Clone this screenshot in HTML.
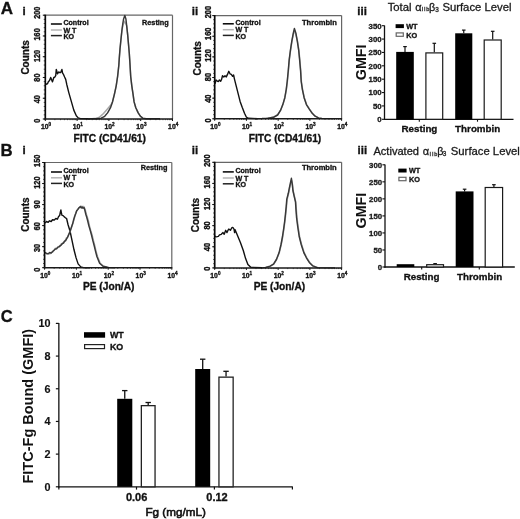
<!DOCTYPE html><html><head><meta charset="utf-8"><style>html,body{margin:0;padding:0;background:#fff;}svg{display:block;filter:blur(0.3px);}</style></head><body>
<svg width="520" height="519" viewBox="0 0 520 519">
<rect x="0" y="0" width="520" height="519" fill="#fff"/>
<text x="0.80" y="13.60" font-size="17.0" font-family="'Liberation Sans', sans-serif" font-weight="bold" text-anchor="start" fill="#111" stroke="#111" stroke-width="0.32" >A</text>
<text x="0.50" y="155.50" font-size="16.8" font-family="'Liberation Sans', sans-serif" font-weight="bold" text-anchor="start" fill="#111" stroke="#111" stroke-width="0.32" >B</text>
<text x="0.80" y="321.60" font-size="16.5" font-family="'Liberation Sans', sans-serif" font-weight="bold" text-anchor="start" fill="#111" stroke="#111" stroke-width="0.32" >C</text>
<text x="22.40" y="15.40" font-size="11.5" font-family="'Liberation Sans', sans-serif" font-weight="bold" text-anchor="start" fill="#111" stroke="#111" stroke-width="0.32" >i</text>
<text x="191.80" y="15.40" font-size="11.5" font-family="'Liberation Sans', sans-serif" font-weight="bold" text-anchor="start" fill="#111" stroke="#111" stroke-width="0.32" >ii</text>
<text x="357.30" y="15.40" font-size="11.5" font-family="'Liberation Sans', sans-serif" font-weight="bold" text-anchor="start" fill="#111" stroke="#111" stroke-width="0.32" >iii</text>
<text x="22.40" y="154.00" font-size="11.5" font-family="'Liberation Sans', sans-serif" font-weight="bold" text-anchor="start" fill="#111" stroke="#111" stroke-width="0.32" >i</text>
<text x="191.80" y="154.40" font-size="11.5" font-family="'Liberation Sans', sans-serif" font-weight="bold" text-anchor="start" fill="#111" stroke="#111" stroke-width="0.32" >ii</text>
<text x="357.60" y="154.20" font-size="11.5" font-family="'Liberation Sans', sans-serif" font-weight="bold" text-anchor="start" fill="#111" stroke="#111" stroke-width="0.32" >iii</text>
<line x1="45.30" y1="15.20" x2="172.50" y2="15.20" stroke="#666" stroke-width="1.2" />
<line x1="172.50" y1="15.20" x2="172.50" y2="119.00" stroke="#666" stroke-width="1.2" />
<line x1="43.70" y1="119.00" x2="45.30" y2="119.00" stroke="#333" stroke-width="0.8" />
<line x1="43.70" y1="114.85" x2="45.30" y2="114.85" stroke="#333" stroke-width="0.8" />
<line x1="43.70" y1="110.70" x2="45.30" y2="110.70" stroke="#333" stroke-width="0.8" />
<line x1="43.70" y1="106.54" x2="45.30" y2="106.54" stroke="#333" stroke-width="0.8" />
<line x1="43.70" y1="102.39" x2="45.30" y2="102.39" stroke="#333" stroke-width="0.8" />
<line x1="43.70" y1="98.24" x2="45.30" y2="98.24" stroke="#333" stroke-width="0.8" />
<line x1="43.70" y1="94.09" x2="45.30" y2="94.09" stroke="#333" stroke-width="0.8" />
<line x1="43.70" y1="89.94" x2="45.30" y2="89.94" stroke="#333" stroke-width="0.8" />
<line x1="43.70" y1="85.78" x2="45.30" y2="85.78" stroke="#333" stroke-width="0.8" />
<line x1="43.70" y1="81.63" x2="45.30" y2="81.63" stroke="#333" stroke-width="0.8" />
<line x1="43.70" y1="77.48" x2="45.30" y2="77.48" stroke="#333" stroke-width="0.8" />
<line x1="43.70" y1="73.33" x2="45.30" y2="73.33" stroke="#333" stroke-width="0.8" />
<line x1="43.70" y1="69.18" x2="45.30" y2="69.18" stroke="#333" stroke-width="0.8" />
<line x1="43.70" y1="65.02" x2="45.30" y2="65.02" stroke="#333" stroke-width="0.8" />
<line x1="43.70" y1="60.87" x2="45.30" y2="60.87" stroke="#333" stroke-width="0.8" />
<line x1="43.70" y1="56.72" x2="45.30" y2="56.72" stroke="#333" stroke-width="0.8" />
<line x1="43.70" y1="52.57" x2="45.30" y2="52.57" stroke="#333" stroke-width="0.8" />
<line x1="43.70" y1="48.42" x2="45.30" y2="48.42" stroke="#333" stroke-width="0.8" />
<line x1="43.70" y1="44.26" x2="45.30" y2="44.26" stroke="#333" stroke-width="0.8" />
<line x1="43.70" y1="40.11" x2="45.30" y2="40.11" stroke="#333" stroke-width="0.8" />
<line x1="43.70" y1="35.96" x2="45.30" y2="35.96" stroke="#333" stroke-width="0.8" />
<line x1="43.70" y1="31.81" x2="45.30" y2="31.81" stroke="#333" stroke-width="0.8" />
<line x1="43.70" y1="27.66" x2="45.30" y2="27.66" stroke="#333" stroke-width="0.8" />
<line x1="43.70" y1="23.50" x2="45.30" y2="23.50" stroke="#333" stroke-width="0.8" />
<line x1="43.70" y1="19.35" x2="45.30" y2="19.35" stroke="#333" stroke-width="0.8" />
<line x1="43.70" y1="15.20" x2="45.30" y2="15.20" stroke="#333" stroke-width="0.8" />
<line x1="42.80" y1="119.00" x2="45.30" y2="119.00" stroke="#111" stroke-width="1.0" />
<text transform="translate(39.60,120.80) rotate(-90) scale(1,1.12)" font-size="7.3" font-family="'Liberation Sans', sans-serif" font-weight="bold" text-anchor="middle" fill="#111" stroke="#111" stroke-width="0.32">0</text>
<line x1="42.80" y1="98.24" x2="45.30" y2="98.24" stroke="#111" stroke-width="1.0" />
<text transform="translate(39.60,99.19) rotate(-90) scale(1,1.12)" font-size="7.3" font-family="'Liberation Sans', sans-serif" font-weight="bold" text-anchor="middle" fill="#111" stroke="#111" stroke-width="0.32">40</text>
<line x1="42.80" y1="77.48" x2="45.30" y2="77.48" stroke="#111" stroke-width="1.0" />
<text transform="translate(39.60,77.58) rotate(-90) scale(1,1.12)" font-size="7.3" font-family="'Liberation Sans', sans-serif" font-weight="bold" text-anchor="middle" fill="#111" stroke="#111" stroke-width="0.32">80</text>
<line x1="42.80" y1="56.72" x2="45.30" y2="56.72" stroke="#111" stroke-width="1.0" />
<text transform="translate(39.60,55.97) rotate(-90) scale(1,1.12)" font-size="7.3" font-family="'Liberation Sans', sans-serif" font-weight="bold" text-anchor="middle" fill="#111" stroke="#111" stroke-width="0.32">120</text>
<line x1="42.80" y1="35.96" x2="45.30" y2="35.96" stroke="#111" stroke-width="1.0" />
<text transform="translate(39.60,34.36) rotate(-90) scale(1,1.12)" font-size="7.3" font-family="'Liberation Sans', sans-serif" font-weight="bold" text-anchor="middle" fill="#111" stroke="#111" stroke-width="0.32">160</text>
<line x1="42.80" y1="15.20" x2="45.30" y2="15.20" stroke="#111" stroke-width="1.0" />
<text transform="translate(39.60,12.75) rotate(-90) scale(1,1.12)" font-size="7.3" font-family="'Liberation Sans', sans-serif" font-weight="bold" text-anchor="middle" fill="#111" stroke="#111" stroke-width="0.32">200</text>
<line x1="45.30" y1="119.00" x2="45.30" y2="121.00" stroke="#111" stroke-width="1.0" />
<line x1="54.87" y1="119.00" x2="54.87" y2="120.20" stroke="#333" stroke-width="0.7" />
<line x1="60.47" y1="119.00" x2="60.47" y2="120.20" stroke="#333" stroke-width="0.7" />
<line x1="64.45" y1="119.00" x2="64.45" y2="120.20" stroke="#333" stroke-width="0.7" />
<line x1="67.53" y1="119.00" x2="67.53" y2="120.20" stroke="#333" stroke-width="0.7" />
<line x1="70.05" y1="119.00" x2="70.05" y2="120.20" stroke="#333" stroke-width="0.7" />
<line x1="72.17" y1="119.00" x2="72.17" y2="120.20" stroke="#333" stroke-width="0.7" />
<line x1="74.02" y1="119.00" x2="74.02" y2="120.20" stroke="#333" stroke-width="0.7" />
<line x1="75.64" y1="119.00" x2="75.64" y2="120.20" stroke="#333" stroke-width="0.7" />
<text x="44.70" y="129.10" font-size="6.8" font-family="'Liberation Sans', sans-serif" font-weight="bold" text-anchor="middle" fill="#111" stroke="#111" stroke-width="0.32" >10</text>
<text x="48.50" y="126.20" font-size="4.6" font-family="'Liberation Sans', sans-serif" font-weight="bold" text-anchor="start" fill="#111" stroke="#111" stroke-width="0.32" >0</text>
<line x1="77.10" y1="119.00" x2="77.10" y2="121.00" stroke="#111" stroke-width="1.0" />
<line x1="86.67" y1="119.00" x2="86.67" y2="120.20" stroke="#333" stroke-width="0.7" />
<line x1="92.27" y1="119.00" x2="92.27" y2="120.20" stroke="#333" stroke-width="0.7" />
<line x1="96.25" y1="119.00" x2="96.25" y2="120.20" stroke="#333" stroke-width="0.7" />
<line x1="99.33" y1="119.00" x2="99.33" y2="120.20" stroke="#333" stroke-width="0.7" />
<line x1="101.85" y1="119.00" x2="101.85" y2="120.20" stroke="#333" stroke-width="0.7" />
<line x1="103.97" y1="119.00" x2="103.97" y2="120.20" stroke="#333" stroke-width="0.7" />
<line x1="105.82" y1="119.00" x2="105.82" y2="120.20" stroke="#333" stroke-width="0.7" />
<line x1="107.44" y1="119.00" x2="107.44" y2="120.20" stroke="#333" stroke-width="0.7" />
<text x="76.50" y="129.10" font-size="6.8" font-family="'Liberation Sans', sans-serif" font-weight="bold" text-anchor="middle" fill="#111" stroke="#111" stroke-width="0.32" >10</text>
<text x="80.30" y="126.20" font-size="4.6" font-family="'Liberation Sans', sans-serif" font-weight="bold" text-anchor="start" fill="#111" stroke="#111" stroke-width="0.32" >1</text>
<line x1="108.90" y1="119.00" x2="108.90" y2="121.00" stroke="#111" stroke-width="1.0" />
<line x1="118.47" y1="119.00" x2="118.47" y2="120.20" stroke="#333" stroke-width="0.7" />
<line x1="124.07" y1="119.00" x2="124.07" y2="120.20" stroke="#333" stroke-width="0.7" />
<line x1="128.05" y1="119.00" x2="128.05" y2="120.20" stroke="#333" stroke-width="0.7" />
<line x1="131.13" y1="119.00" x2="131.13" y2="120.20" stroke="#333" stroke-width="0.7" />
<line x1="133.65" y1="119.00" x2="133.65" y2="120.20" stroke="#333" stroke-width="0.7" />
<line x1="135.77" y1="119.00" x2="135.77" y2="120.20" stroke="#333" stroke-width="0.7" />
<line x1="137.62" y1="119.00" x2="137.62" y2="120.20" stroke="#333" stroke-width="0.7" />
<line x1="139.24" y1="119.00" x2="139.24" y2="120.20" stroke="#333" stroke-width="0.7" />
<text x="108.30" y="129.10" font-size="6.8" font-family="'Liberation Sans', sans-serif" font-weight="bold" text-anchor="middle" fill="#111" stroke="#111" stroke-width="0.32" >10</text>
<text x="112.10" y="126.20" font-size="4.6" font-family="'Liberation Sans', sans-serif" font-weight="bold" text-anchor="start" fill="#111" stroke="#111" stroke-width="0.32" >2</text>
<line x1="140.70" y1="119.00" x2="140.70" y2="121.00" stroke="#111" stroke-width="1.0" />
<line x1="150.27" y1="119.00" x2="150.27" y2="120.20" stroke="#333" stroke-width="0.7" />
<line x1="155.87" y1="119.00" x2="155.87" y2="120.20" stroke="#333" stroke-width="0.7" />
<line x1="159.85" y1="119.00" x2="159.85" y2="120.20" stroke="#333" stroke-width="0.7" />
<line x1="162.93" y1="119.00" x2="162.93" y2="120.20" stroke="#333" stroke-width="0.7" />
<line x1="165.45" y1="119.00" x2="165.45" y2="120.20" stroke="#333" stroke-width="0.7" />
<line x1="167.57" y1="119.00" x2="167.57" y2="120.20" stroke="#333" stroke-width="0.7" />
<line x1="169.42" y1="119.00" x2="169.42" y2="120.20" stroke="#333" stroke-width="0.7" />
<line x1="171.04" y1="119.00" x2="171.04" y2="120.20" stroke="#333" stroke-width="0.7" />
<text x="140.10" y="129.10" font-size="6.8" font-family="'Liberation Sans', sans-serif" font-weight="bold" text-anchor="middle" fill="#111" stroke="#111" stroke-width="0.32" >10</text>
<text x="143.90" y="126.20" font-size="4.6" font-family="'Liberation Sans', sans-serif" font-weight="bold" text-anchor="start" fill="#111" stroke="#111" stroke-width="0.32" >3</text>
<line x1="172.50" y1="119.00" x2="172.50" y2="121.00" stroke="#111" stroke-width="1.0" />
<text x="171.90" y="129.10" font-size="6.8" font-family="'Liberation Sans', sans-serif" font-weight="bold" text-anchor="middle" fill="#111" stroke="#111" stroke-width="0.32" >10</text>
<text x="175.70" y="126.20" font-size="4.6" font-family="'Liberation Sans', sans-serif" font-weight="bold" text-anchor="start" fill="#111" stroke="#111" stroke-width="0.32" >4</text>
<polyline points="45.50,84.50 46.50,84.00 47.50,83.80 48.45,81.59 49.40,80.70 50.70,77.50 52.50,81.90 53.80,77.50 54.75,77.23 55.70,75.70 56.30,69.40 57.50,73.80 58.80,71.90 59.75,72.67 60.70,72.50 61.90,69.40 62.60,73.20 63.60,74.66 64.60,77.00 65.70,79.40 66.90,85.00 68.80,92.60 71.30,101.40 73.80,110.10 76.30,115.80 78.20,117.90 80.50,118.60 90.00,118.80" fill="none" stroke="#111" stroke-width="1.4" stroke-linejoin="round" />
<polyline points="92.00,118.70 96.00,118.30 98.90,117.50 101.20,115.60 103.50,113.50 107.20,109.20 111.00,104.80 112.60,101.50 114.50,93.80 116.20,85.80 117.60,76.50 118.80,65.50 119.30,58.00 120.00,49.00 120.90,40.00 121.90,30.50 123.00,25.00 124.40,21.20 125.60,23.50 126.70,25.80 127.70,35.10 128.50,44.30 129.30,53.50 129.90,62.80 130.70,76.50 131.80,85.80 133.00,93.80 134.10,101.90 135.80,107.70 138.20,112.90 140.50,116.30 142.80,118.10" fill="none" stroke="#a8a8a8" stroke-width="1.5" stroke-linejoin="round" />
<polyline points="88.00,118.80 97.00,118.70 101.20,118.10 104.70,116.30 107.60,112.90 110.50,107.70 112.50,101.90 114.50,93.80 116.20,85.80 117.60,76.50 118.80,65.50 119.30,58.00 120.00,49.00 120.90,40.00 121.90,30.50 122.80,23.50 123.60,18.90 124.80,15.50 125.90,18.90 126.70,25.80 127.70,35.10 128.50,44.30 129.30,53.50 129.90,62.80 130.70,76.50 131.80,85.80 133.00,93.80 134.10,101.90 135.80,107.70 138.20,112.90 140.50,116.30 142.80,118.10 146.20,118.70 160.00,118.80" fill="none" stroke="#383838" stroke-width="1.45" stroke-linejoin="round" />
<line x1="45.30" y1="14.70" x2="45.30" y2="119.60" stroke="#0a0a0a" stroke-width="1.7" />
<line x1="44.70" y1="119.00" x2="173.00" y2="119.00" stroke="#1a1a1a" stroke-width="1.5" />
<text transform="translate(28.50,57.40) rotate(-90)" font-size="10.0" font-family="'Liberation Sans', sans-serif" font-weight="bold" text-anchor="middle" fill="#111" stroke="#111" stroke-width="0.32">Counts</text>
<text x="109.70" y="141.90" font-size="10.2" font-family="'Liberation Sans', sans-serif" font-weight="bold" text-anchor="middle" fill="#111" stroke="#111" stroke-width="0.32" >FITC (CD41/61)</text>
<text x="168.80" y="24.70" font-size="7.3" font-family="'Liberation Sans', sans-serif" font-weight="bold" text-anchor="end" fill="#111" stroke="#111" stroke-width="0.32" >Resting</text>
<line x1="50.90" y1="24.00" x2="61.90" y2="24.00" stroke="#000" stroke-width="1.5" />
<line x1="50.90" y1="30.00" x2="61.90" y2="30.00" stroke="#b4b4b4" stroke-width="1.5" />
<line x1="50.90" y1="35.60" x2="61.90" y2="35.60" stroke="#222" stroke-width="1.5" />
<text x="63.40" y="25.10" font-size="7.1" font-family="'Liberation Sans', sans-serif" font-weight="bold" text-anchor="start" fill="#111" stroke="#111" stroke-width="0.32" >Control</text>
<text x="63.40" y="32.60" font-size="7.1" font-family="'Liberation Sans', sans-serif" font-weight="bold" text-anchor="start" fill="#111" stroke="#111" stroke-width="0.32" >W T</text>
<text x="63.40" y="39.20" font-size="7.1" font-family="'Liberation Sans', sans-serif" font-weight="bold" text-anchor="start" fill="#111" stroke="#111" stroke-width="0.32" >KO</text>
<line x1="214.70" y1="15.60" x2="341.60" y2="15.60" stroke="#666" stroke-width="1.2" />
<line x1="341.60" y1="15.60" x2="341.60" y2="118.80" stroke="#666" stroke-width="1.2" />
<line x1="213.10" y1="118.80" x2="214.70" y2="118.80" stroke="#333" stroke-width="0.8" />
<line x1="213.10" y1="114.67" x2="214.70" y2="114.67" stroke="#333" stroke-width="0.8" />
<line x1="213.10" y1="110.54" x2="214.70" y2="110.54" stroke="#333" stroke-width="0.8" />
<line x1="213.10" y1="106.42" x2="214.70" y2="106.42" stroke="#333" stroke-width="0.8" />
<line x1="213.10" y1="102.29" x2="214.70" y2="102.29" stroke="#333" stroke-width="0.8" />
<line x1="213.10" y1="98.16" x2="214.70" y2="98.16" stroke="#333" stroke-width="0.8" />
<line x1="213.10" y1="94.03" x2="214.70" y2="94.03" stroke="#333" stroke-width="0.8" />
<line x1="213.10" y1="89.90" x2="214.70" y2="89.90" stroke="#333" stroke-width="0.8" />
<line x1="213.10" y1="85.78" x2="214.70" y2="85.78" stroke="#333" stroke-width="0.8" />
<line x1="213.10" y1="81.65" x2="214.70" y2="81.65" stroke="#333" stroke-width="0.8" />
<line x1="213.10" y1="77.52" x2="214.70" y2="77.52" stroke="#333" stroke-width="0.8" />
<line x1="213.10" y1="73.39" x2="214.70" y2="73.39" stroke="#333" stroke-width="0.8" />
<line x1="213.10" y1="69.26" x2="214.70" y2="69.26" stroke="#333" stroke-width="0.8" />
<line x1="213.10" y1="65.14" x2="214.70" y2="65.14" stroke="#333" stroke-width="0.8" />
<line x1="213.10" y1="61.01" x2="214.70" y2="61.01" stroke="#333" stroke-width="0.8" />
<line x1="213.10" y1="56.88" x2="214.70" y2="56.88" stroke="#333" stroke-width="0.8" />
<line x1="213.10" y1="52.75" x2="214.70" y2="52.75" stroke="#333" stroke-width="0.8" />
<line x1="213.10" y1="48.62" x2="214.70" y2="48.62" stroke="#333" stroke-width="0.8" />
<line x1="213.10" y1="44.50" x2="214.70" y2="44.50" stroke="#333" stroke-width="0.8" />
<line x1="213.10" y1="40.37" x2="214.70" y2="40.37" stroke="#333" stroke-width="0.8" />
<line x1="213.10" y1="36.24" x2="214.70" y2="36.24" stroke="#333" stroke-width="0.8" />
<line x1="213.10" y1="32.11" x2="214.70" y2="32.11" stroke="#333" stroke-width="0.8" />
<line x1="213.10" y1="27.98" x2="214.70" y2="27.98" stroke="#333" stroke-width="0.8" />
<line x1="213.10" y1="23.86" x2="214.70" y2="23.86" stroke="#333" stroke-width="0.8" />
<line x1="213.10" y1="19.73" x2="214.70" y2="19.73" stroke="#333" stroke-width="0.8" />
<line x1="213.10" y1="15.60" x2="214.70" y2="15.60" stroke="#333" stroke-width="0.8" />
<line x1="212.20" y1="118.80" x2="214.70" y2="118.80" stroke="#111" stroke-width="1.0" />
<text transform="translate(210.90,120.30) rotate(-90) scale(1,1.12)" font-size="7.5" font-family="'Liberation Sans', sans-serif" font-weight="bold" text-anchor="middle" fill="#111" stroke="#111" stroke-width="0.32">0</text>
<line x1="212.20" y1="98.16" x2="214.70" y2="98.16" stroke="#111" stroke-width="1.0" />
<text transform="translate(210.90,98.66) rotate(-90) scale(1,1.12)" font-size="7.5" font-family="'Liberation Sans', sans-serif" font-weight="bold" text-anchor="middle" fill="#111" stroke="#111" stroke-width="0.32">40</text>
<line x1="212.20" y1="77.52" x2="214.70" y2="77.52" stroke="#111" stroke-width="1.0" />
<text transform="translate(210.90,77.02) rotate(-90) scale(1,1.12)" font-size="7.5" font-family="'Liberation Sans', sans-serif" font-weight="bold" text-anchor="middle" fill="#111" stroke="#111" stroke-width="0.32">80</text>
<line x1="212.20" y1="56.88" x2="214.70" y2="56.88" stroke="#111" stroke-width="1.0" />
<text transform="translate(210.90,55.38) rotate(-90) scale(1,1.12)" font-size="7.5" font-family="'Liberation Sans', sans-serif" font-weight="bold" text-anchor="middle" fill="#111" stroke="#111" stroke-width="0.32">120</text>
<line x1="212.20" y1="36.24" x2="214.70" y2="36.24" stroke="#111" stroke-width="1.0" />
<text transform="translate(210.90,33.74) rotate(-90) scale(1,1.12)" font-size="7.5" font-family="'Liberation Sans', sans-serif" font-weight="bold" text-anchor="middle" fill="#111" stroke="#111" stroke-width="0.32">160</text>
<line x1="212.20" y1="15.60" x2="214.70" y2="15.60" stroke="#111" stroke-width="1.0" />
<text transform="translate(210.90,12.10) rotate(-90) scale(1,1.12)" font-size="7.5" font-family="'Liberation Sans', sans-serif" font-weight="bold" text-anchor="middle" fill="#111" stroke="#111" stroke-width="0.32">200</text>
<line x1="214.70" y1="118.80" x2="214.70" y2="120.80" stroke="#111" stroke-width="1.0" />
<line x1="224.25" y1="118.80" x2="224.25" y2="120.00" stroke="#333" stroke-width="0.7" />
<line x1="229.84" y1="118.80" x2="229.84" y2="120.00" stroke="#333" stroke-width="0.7" />
<line x1="233.80" y1="118.80" x2="233.80" y2="120.00" stroke="#333" stroke-width="0.7" />
<line x1="236.87" y1="118.80" x2="236.87" y2="120.00" stroke="#333" stroke-width="0.7" />
<line x1="239.39" y1="118.80" x2="239.39" y2="120.00" stroke="#333" stroke-width="0.7" />
<line x1="241.51" y1="118.80" x2="241.51" y2="120.00" stroke="#333" stroke-width="0.7" />
<line x1="243.35" y1="118.80" x2="243.35" y2="120.00" stroke="#333" stroke-width="0.7" />
<line x1="244.97" y1="118.80" x2="244.97" y2="120.00" stroke="#333" stroke-width="0.7" />
<text x="214.10" y="128.90" font-size="6.8" font-family="'Liberation Sans', sans-serif" font-weight="bold" text-anchor="middle" fill="#111" stroke="#111" stroke-width="0.32" >10</text>
<text x="217.90" y="126.00" font-size="4.6" font-family="'Liberation Sans', sans-serif" font-weight="bold" text-anchor="start" fill="#111" stroke="#111" stroke-width="0.32" >0</text>
<line x1="246.43" y1="118.80" x2="246.43" y2="120.80" stroke="#111" stroke-width="1.0" />
<line x1="255.98" y1="118.80" x2="255.98" y2="120.00" stroke="#333" stroke-width="0.7" />
<line x1="261.56" y1="118.80" x2="261.56" y2="120.00" stroke="#333" stroke-width="0.7" />
<line x1="265.53" y1="118.80" x2="265.53" y2="120.00" stroke="#333" stroke-width="0.7" />
<line x1="268.60" y1="118.80" x2="268.60" y2="120.00" stroke="#333" stroke-width="0.7" />
<line x1="271.11" y1="118.80" x2="271.11" y2="120.00" stroke="#333" stroke-width="0.7" />
<line x1="273.24" y1="118.80" x2="273.24" y2="120.00" stroke="#333" stroke-width="0.7" />
<line x1="275.08" y1="118.80" x2="275.08" y2="120.00" stroke="#333" stroke-width="0.7" />
<line x1="276.70" y1="118.80" x2="276.70" y2="120.00" stroke="#333" stroke-width="0.7" />
<text x="245.83" y="128.90" font-size="6.8" font-family="'Liberation Sans', sans-serif" font-weight="bold" text-anchor="middle" fill="#111" stroke="#111" stroke-width="0.32" >10</text>
<text x="249.62" y="126.00" font-size="4.6" font-family="'Liberation Sans', sans-serif" font-weight="bold" text-anchor="start" fill="#111" stroke="#111" stroke-width="0.32" >1</text>
<line x1="278.15" y1="118.80" x2="278.15" y2="120.80" stroke="#111" stroke-width="1.0" />
<line x1="287.70" y1="118.80" x2="287.70" y2="120.00" stroke="#333" stroke-width="0.7" />
<line x1="293.29" y1="118.80" x2="293.29" y2="120.00" stroke="#333" stroke-width="0.7" />
<line x1="297.25" y1="118.80" x2="297.25" y2="120.00" stroke="#333" stroke-width="0.7" />
<line x1="300.32" y1="118.80" x2="300.32" y2="120.00" stroke="#333" stroke-width="0.7" />
<line x1="302.84" y1="118.80" x2="302.84" y2="120.00" stroke="#333" stroke-width="0.7" />
<line x1="304.96" y1="118.80" x2="304.96" y2="120.00" stroke="#333" stroke-width="0.7" />
<line x1="306.80" y1="118.80" x2="306.80" y2="120.00" stroke="#333" stroke-width="0.7" />
<line x1="308.42" y1="118.80" x2="308.42" y2="120.00" stroke="#333" stroke-width="0.7" />
<text x="277.55" y="128.90" font-size="6.8" font-family="'Liberation Sans', sans-serif" font-weight="bold" text-anchor="middle" fill="#111" stroke="#111" stroke-width="0.32" >10</text>
<text x="281.35" y="126.00" font-size="4.6" font-family="'Liberation Sans', sans-serif" font-weight="bold" text-anchor="start" fill="#111" stroke="#111" stroke-width="0.32" >2</text>
<line x1="309.88" y1="118.80" x2="309.88" y2="120.80" stroke="#111" stroke-width="1.0" />
<line x1="319.43" y1="118.80" x2="319.43" y2="120.00" stroke="#333" stroke-width="0.7" />
<line x1="325.01" y1="118.80" x2="325.01" y2="120.00" stroke="#333" stroke-width="0.7" />
<line x1="328.98" y1="118.80" x2="328.98" y2="120.00" stroke="#333" stroke-width="0.7" />
<line x1="332.05" y1="118.80" x2="332.05" y2="120.00" stroke="#333" stroke-width="0.7" />
<line x1="334.56" y1="118.80" x2="334.56" y2="120.00" stroke="#333" stroke-width="0.7" />
<line x1="336.69" y1="118.80" x2="336.69" y2="120.00" stroke="#333" stroke-width="0.7" />
<line x1="338.53" y1="118.80" x2="338.53" y2="120.00" stroke="#333" stroke-width="0.7" />
<line x1="340.15" y1="118.80" x2="340.15" y2="120.00" stroke="#333" stroke-width="0.7" />
<text x="309.27" y="128.90" font-size="6.8" font-family="'Liberation Sans', sans-serif" font-weight="bold" text-anchor="middle" fill="#111" stroke="#111" stroke-width="0.32" >10</text>
<text x="313.07" y="126.00" font-size="4.6" font-family="'Liberation Sans', sans-serif" font-weight="bold" text-anchor="start" fill="#111" stroke="#111" stroke-width="0.32" >3</text>
<line x1="341.60" y1="118.80" x2="341.60" y2="120.80" stroke="#111" stroke-width="1.0" />
<text x="341.00" y="128.90" font-size="6.8" font-family="'Liberation Sans', sans-serif" font-weight="bold" text-anchor="middle" fill="#111" stroke="#111" stroke-width="0.32" >10</text>
<text x="344.80" y="126.00" font-size="4.6" font-family="'Liberation Sans', sans-serif" font-weight="bold" text-anchor="start" fill="#111" stroke="#111" stroke-width="0.32" >4</text>
<polyline points="215.00,83.80 216.00,80.00 217.50,81.30 218.45,81.47 219.40,80.00 220.70,81.30 221.60,79.31 222.50,75.70 223.80,76.90 225.00,75.70 226.30,76.90 227.50,74.40 228.80,71.30 230.00,73.80 231.30,74.40 232.60,76.30 233.60,75.00 234.40,78.80 236.30,86.30 238.20,93.80 240.10,101.40 242.30,107.60 244.50,113.30 246.30,117.00 248.20,118.30 258.00,118.70" fill="none" stroke="#111" stroke-width="1.4" stroke-linejoin="round" />
<polyline points="266.00,118.40 270.00,118.00 273.80,117.00 277.80,114.60 280.70,110.00 283.00,104.20 285.00,97.40 286.40,89.40 287.40,81.30 288.40,71.00 289.40,59.40 290.60,50.20 292.00,41.00 293.40,34.00 294.50,30.50 295.80,34.50 297.50,41.20 298.90,50.40 299.80,59.60 300.80,71.20 301.40,81.50 302.60,89.60 304.30,97.70 306.60,104.60 309.50,109.20 312.40,113.30 315.30,116.20 318.70,117.90" fill="none" stroke="#a8a8a8" stroke-width="1.5" stroke-linejoin="round" />
<polyline points="258.00,118.60 262.00,118.50 267.80,118.20 273.50,117.30 277.60,115.00 280.50,110.40 282.80,104.60 284.80,97.70 286.20,89.60 287.20,81.50 288.20,71.20 289.20,59.60 290.40,50.40 291.80,41.20 293.30,33.10 294.40,28.50 295.90,33.10 297.30,41.20 298.70,50.40 299.60,59.60 300.60,71.20 301.20,81.50 302.40,89.60 304.10,97.70 306.40,104.60 309.30,109.20 312.20,113.30 315.10,116.20 318.50,117.90 322.00,118.50 335.00,118.60" fill="none" stroke="#383838" stroke-width="1.45" stroke-linejoin="round" />
<line x1="214.70" y1="15.10" x2="214.70" y2="119.40" stroke="#0a0a0a" stroke-width="1.7" />
<line x1="214.10" y1="118.80" x2="342.10" y2="118.80" stroke="#1a1a1a" stroke-width="1.5" />
<text transform="translate(200.50,58.30) rotate(-90)" font-size="10.0" font-family="'Liberation Sans', sans-serif" font-weight="bold" text-anchor="middle" fill="#111" stroke="#111" stroke-width="0.32">Counts</text>
<text x="285.00" y="142.00" font-size="10.2" font-family="'Liberation Sans', sans-serif" font-weight="bold" text-anchor="middle" fill="#111" stroke="#111" stroke-width="0.32" >FITC (CD41/61)</text>
<text x="336.80" y="24.60" font-size="7.55" font-family="'Liberation Sans', sans-serif" font-weight="bold" text-anchor="end" fill="#111" stroke="#111" stroke-width="0.32" >Thrombin</text>
<line x1="222.80" y1="23.80" x2="233.80" y2="23.80" stroke="#000" stroke-width="1.5" />
<line x1="222.80" y1="29.70" x2="233.80" y2="29.70" stroke="#b4b4b4" stroke-width="1.5" />
<line x1="222.80" y1="35.40" x2="233.80" y2="35.40" stroke="#222" stroke-width="1.5" />
<text x="235.40" y="25.00" font-size="7.1" font-family="'Liberation Sans', sans-serif" font-weight="bold" text-anchor="start" fill="#111" stroke="#111" stroke-width="0.32" >Control</text>
<text x="235.40" y="32.40" font-size="7.1" font-family="'Liberation Sans', sans-serif" font-weight="bold" text-anchor="start" fill="#111" stroke="#111" stroke-width="0.32" >W T</text>
<text x="235.40" y="39.00" font-size="7.1" font-family="'Liberation Sans', sans-serif" font-weight="bold" text-anchor="start" fill="#111" stroke="#111" stroke-width="0.32" >KO</text>
<line x1="44.60" y1="162.50" x2="171.80" y2="162.50" stroke="#666" stroke-width="1.2" />
<line x1="171.80" y1="162.50" x2="171.80" y2="267.70" stroke="#666" stroke-width="1.2" />
<line x1="43.00" y1="267.70" x2="44.60" y2="267.70" stroke="#333" stroke-width="0.8" />
<line x1="43.00" y1="263.49" x2="44.60" y2="263.49" stroke="#333" stroke-width="0.8" />
<line x1="43.00" y1="259.28" x2="44.60" y2="259.28" stroke="#333" stroke-width="0.8" />
<line x1="43.00" y1="255.08" x2="44.60" y2="255.08" stroke="#333" stroke-width="0.8" />
<line x1="43.00" y1="250.87" x2="44.60" y2="250.87" stroke="#333" stroke-width="0.8" />
<line x1="43.00" y1="246.66" x2="44.60" y2="246.66" stroke="#333" stroke-width="0.8" />
<line x1="43.00" y1="242.45" x2="44.60" y2="242.45" stroke="#333" stroke-width="0.8" />
<line x1="43.00" y1="238.24" x2="44.60" y2="238.24" stroke="#333" stroke-width="0.8" />
<line x1="43.00" y1="234.04" x2="44.60" y2="234.04" stroke="#333" stroke-width="0.8" />
<line x1="43.00" y1="229.83" x2="44.60" y2="229.83" stroke="#333" stroke-width="0.8" />
<line x1="43.00" y1="225.62" x2="44.60" y2="225.62" stroke="#333" stroke-width="0.8" />
<line x1="43.00" y1="221.41" x2="44.60" y2="221.41" stroke="#333" stroke-width="0.8" />
<line x1="43.00" y1="217.20" x2="44.60" y2="217.20" stroke="#333" stroke-width="0.8" />
<line x1="43.00" y1="213.00" x2="44.60" y2="213.00" stroke="#333" stroke-width="0.8" />
<line x1="43.00" y1="208.79" x2="44.60" y2="208.79" stroke="#333" stroke-width="0.8" />
<line x1="43.00" y1="204.58" x2="44.60" y2="204.58" stroke="#333" stroke-width="0.8" />
<line x1="43.00" y1="200.37" x2="44.60" y2="200.37" stroke="#333" stroke-width="0.8" />
<line x1="43.00" y1="196.16" x2="44.60" y2="196.16" stroke="#333" stroke-width="0.8" />
<line x1="43.00" y1="191.96" x2="44.60" y2="191.96" stroke="#333" stroke-width="0.8" />
<line x1="43.00" y1="187.75" x2="44.60" y2="187.75" stroke="#333" stroke-width="0.8" />
<line x1="43.00" y1="183.54" x2="44.60" y2="183.54" stroke="#333" stroke-width="0.8" />
<line x1="43.00" y1="179.33" x2="44.60" y2="179.33" stroke="#333" stroke-width="0.8" />
<line x1="43.00" y1="175.12" x2="44.60" y2="175.12" stroke="#333" stroke-width="0.8" />
<line x1="43.00" y1="170.92" x2="44.60" y2="170.92" stroke="#333" stroke-width="0.8" />
<line x1="43.00" y1="166.71" x2="44.60" y2="166.71" stroke="#333" stroke-width="0.8" />
<line x1="43.00" y1="162.50" x2="44.60" y2="162.50" stroke="#333" stroke-width="0.8" />
<line x1="42.10" y1="267.70" x2="44.60" y2="267.70" stroke="#111" stroke-width="1.0" />
<text transform="translate(39.80,269.70) rotate(-90) scale(1,1.12)" font-size="7.4" font-family="'Liberation Sans', sans-serif" font-weight="bold" text-anchor="middle" fill="#111" stroke="#111" stroke-width="0.32">0</text>
<line x1="42.10" y1="246.66" x2="44.60" y2="246.66" stroke="#111" stroke-width="1.0" />
<text transform="translate(39.80,247.92) rotate(-90) scale(1,1.12)" font-size="7.4" font-family="'Liberation Sans', sans-serif" font-weight="bold" text-anchor="middle" fill="#111" stroke="#111" stroke-width="0.32">30</text>
<line x1="42.10" y1="225.62" x2="44.60" y2="225.62" stroke="#111" stroke-width="1.0" />
<text transform="translate(39.80,226.14) rotate(-90) scale(1,1.12)" font-size="7.4" font-family="'Liberation Sans', sans-serif" font-weight="bold" text-anchor="middle" fill="#111" stroke="#111" stroke-width="0.32">60</text>
<line x1="42.10" y1="204.58" x2="44.60" y2="204.58" stroke="#111" stroke-width="1.0" />
<text transform="translate(39.80,204.36) rotate(-90) scale(1,1.12)" font-size="7.4" font-family="'Liberation Sans', sans-serif" font-weight="bold" text-anchor="middle" fill="#111" stroke="#111" stroke-width="0.32">90</text>
<line x1="42.10" y1="183.54" x2="44.60" y2="183.54" stroke="#111" stroke-width="1.0" />
<text transform="translate(39.80,182.58) rotate(-90) scale(1,1.12)" font-size="7.4" font-family="'Liberation Sans', sans-serif" font-weight="bold" text-anchor="middle" fill="#111" stroke="#111" stroke-width="0.32">120</text>
<line x1="42.10" y1="162.50" x2="44.60" y2="162.50" stroke="#111" stroke-width="1.0" />
<text transform="translate(39.80,160.80) rotate(-90) scale(1,1.12)" font-size="7.4" font-family="'Liberation Sans', sans-serif" font-weight="bold" text-anchor="middle" fill="#111" stroke="#111" stroke-width="0.32">150</text>
<line x1="44.60" y1="267.70" x2="44.60" y2="269.70" stroke="#111" stroke-width="1.0" />
<line x1="54.17" y1="267.70" x2="54.17" y2="268.90" stroke="#333" stroke-width="0.7" />
<line x1="59.77" y1="267.70" x2="59.77" y2="268.90" stroke="#333" stroke-width="0.7" />
<line x1="63.75" y1="267.70" x2="63.75" y2="268.90" stroke="#333" stroke-width="0.7" />
<line x1="66.83" y1="267.70" x2="66.83" y2="268.90" stroke="#333" stroke-width="0.7" />
<line x1="69.35" y1="267.70" x2="69.35" y2="268.90" stroke="#333" stroke-width="0.7" />
<line x1="71.47" y1="267.70" x2="71.47" y2="268.90" stroke="#333" stroke-width="0.7" />
<line x1="73.32" y1="267.70" x2="73.32" y2="268.90" stroke="#333" stroke-width="0.7" />
<line x1="74.94" y1="267.70" x2="74.94" y2="268.90" stroke="#333" stroke-width="0.7" />
<text x="44.00" y="277.80" font-size="6.8" font-family="'Liberation Sans', sans-serif" font-weight="bold" text-anchor="middle" fill="#111" stroke="#111" stroke-width="0.32" >10</text>
<text x="47.80" y="274.90" font-size="4.6" font-family="'Liberation Sans', sans-serif" font-weight="bold" text-anchor="start" fill="#111" stroke="#111" stroke-width="0.32" >0</text>
<line x1="76.40" y1="267.70" x2="76.40" y2="269.70" stroke="#111" stroke-width="1.0" />
<line x1="85.97" y1="267.70" x2="85.97" y2="268.90" stroke="#333" stroke-width="0.7" />
<line x1="91.57" y1="267.70" x2="91.57" y2="268.90" stroke="#333" stroke-width="0.7" />
<line x1="95.55" y1="267.70" x2="95.55" y2="268.90" stroke="#333" stroke-width="0.7" />
<line x1="98.63" y1="267.70" x2="98.63" y2="268.90" stroke="#333" stroke-width="0.7" />
<line x1="101.15" y1="267.70" x2="101.15" y2="268.90" stroke="#333" stroke-width="0.7" />
<line x1="103.27" y1="267.70" x2="103.27" y2="268.90" stroke="#333" stroke-width="0.7" />
<line x1="105.12" y1="267.70" x2="105.12" y2="268.90" stroke="#333" stroke-width="0.7" />
<line x1="106.74" y1="267.70" x2="106.74" y2="268.90" stroke="#333" stroke-width="0.7" />
<text x="75.80" y="277.80" font-size="6.8" font-family="'Liberation Sans', sans-serif" font-weight="bold" text-anchor="middle" fill="#111" stroke="#111" stroke-width="0.32" >10</text>
<text x="79.60" y="274.90" font-size="4.6" font-family="'Liberation Sans', sans-serif" font-weight="bold" text-anchor="start" fill="#111" stroke="#111" stroke-width="0.32" >1</text>
<line x1="108.20" y1="267.70" x2="108.20" y2="269.70" stroke="#111" stroke-width="1.0" />
<line x1="117.77" y1="267.70" x2="117.77" y2="268.90" stroke="#333" stroke-width="0.7" />
<line x1="123.37" y1="267.70" x2="123.37" y2="268.90" stroke="#333" stroke-width="0.7" />
<line x1="127.35" y1="267.70" x2="127.35" y2="268.90" stroke="#333" stroke-width="0.7" />
<line x1="130.43" y1="267.70" x2="130.43" y2="268.90" stroke="#333" stroke-width="0.7" />
<line x1="132.95" y1="267.70" x2="132.95" y2="268.90" stroke="#333" stroke-width="0.7" />
<line x1="135.07" y1="267.70" x2="135.07" y2="268.90" stroke="#333" stroke-width="0.7" />
<line x1="136.92" y1="267.70" x2="136.92" y2="268.90" stroke="#333" stroke-width="0.7" />
<line x1="138.54" y1="267.70" x2="138.54" y2="268.90" stroke="#333" stroke-width="0.7" />
<text x="107.60" y="277.80" font-size="6.8" font-family="'Liberation Sans', sans-serif" font-weight="bold" text-anchor="middle" fill="#111" stroke="#111" stroke-width="0.32" >10</text>
<text x="111.40" y="274.90" font-size="4.6" font-family="'Liberation Sans', sans-serif" font-weight="bold" text-anchor="start" fill="#111" stroke="#111" stroke-width="0.32" >2</text>
<line x1="140.00" y1="267.70" x2="140.00" y2="269.70" stroke="#111" stroke-width="1.0" />
<line x1="149.57" y1="267.70" x2="149.57" y2="268.90" stroke="#333" stroke-width="0.7" />
<line x1="155.17" y1="267.70" x2="155.17" y2="268.90" stroke="#333" stroke-width="0.7" />
<line x1="159.15" y1="267.70" x2="159.15" y2="268.90" stroke="#333" stroke-width="0.7" />
<line x1="162.23" y1="267.70" x2="162.23" y2="268.90" stroke="#333" stroke-width="0.7" />
<line x1="164.75" y1="267.70" x2="164.75" y2="268.90" stroke="#333" stroke-width="0.7" />
<line x1="166.87" y1="267.70" x2="166.87" y2="268.90" stroke="#333" stroke-width="0.7" />
<line x1="168.72" y1="267.70" x2="168.72" y2="268.90" stroke="#333" stroke-width="0.7" />
<line x1="170.34" y1="267.70" x2="170.34" y2="268.90" stroke="#333" stroke-width="0.7" />
<text x="139.40" y="277.80" font-size="6.8" font-family="'Liberation Sans', sans-serif" font-weight="bold" text-anchor="middle" fill="#111" stroke="#111" stroke-width="0.32" >10</text>
<text x="143.20" y="274.90" font-size="4.6" font-family="'Liberation Sans', sans-serif" font-weight="bold" text-anchor="start" fill="#111" stroke="#111" stroke-width="0.32" >3</text>
<line x1="171.80" y1="267.70" x2="171.80" y2="269.70" stroke="#111" stroke-width="1.0" />
<text x="171.20" y="277.80" font-size="6.8" font-family="'Liberation Sans', sans-serif" font-weight="bold" text-anchor="middle" fill="#111" stroke="#111" stroke-width="0.32" >10</text>
<text x="175.00" y="274.90" font-size="4.6" font-family="'Liberation Sans', sans-serif" font-weight="bold" text-anchor="start" fill="#111" stroke="#111" stroke-width="0.32" >4</text>
<polyline points="45.10,223.10 46.50,221.50 48.20,222.30 49.50,220.80 51.20,221.50 52.50,219.80 54.30,220.00 55.80,218.50 57.40,219.20 58.60,216.50 59.70,215.40 60.50,211.50 60.90,210.00 61.50,213.50 62.00,215.40 63.15,215.63 64.30,216.90 65.45,217.79 66.60,218.50 68.00,224.50 70.00,231.00 72.00,240.40 74.00,249.80 76.10,257.90 78.10,263.90 80.80,266.90 83.50,267.60 90.00,267.70" fill="none" stroke="#111" stroke-width="1.4" stroke-linejoin="round" />
<polyline points="45.00,252.80 46.00,253.29 47.00,253.77 48.00,253.60 49.00,253.86 50.00,253.86 51.00,252.80 52.10,252.23 53.20,251.56 54.30,249.80 55.22,248.29 56.14,248.42 57.06,248.62 57.98,247.43 58.90,246.50 59.82,246.48 60.74,244.32 61.66,244.22 62.58,243.08 63.50,242.80 64.47,241.50 65.45,240.18 66.43,237.80 67.40,237.30 70.20,231.20 72.90,223.20 73.90,220.06 74.90,215.80 75.90,212.51 76.90,210.40 77.90,209.33 78.90,207.70 80.60,206.20 82.20,206.50 83.20,206.44 84.20,207.20 85.30,210.00 86.35,214.33 87.40,217.50 88.40,220.97 89.40,225.60 90.75,230.76 92.10,235.00 93.45,240.62 94.80,245.80 96.15,251.58 97.50,256.50 100.20,263.30 103.60,266.20 107.00,267.00" fill="none" stroke="#a8a8a8" stroke-width="1.5" stroke-linejoin="round" />
<polyline points="45.00,252.30 46.50,253.50 48.20,253.80 49.70,252.50 51.20,253.10 52.80,251.20 54.30,250.00 55.40,248.92 56.50,248.80 57.70,247.14 58.90,246.90 60.05,245.86 61.20,245.20 62.35,243.53 63.50,243.10 64.50,241.17 65.50,240.80 66.45,239.07 67.40,237.70 70.00,231.60 72.70,223.60 73.70,219.43 74.70,216.20 75.70,213.74 76.70,210.80 77.70,209.63 78.70,208.10 79.70,207.20 80.40,206.60 81.20,208.00 82.00,206.90 83.00,208.20 84.00,207.60 84.80,210.00 85.80,214.28 86.80,217.50 87.80,221.28 88.80,225.60 90.15,230.01 91.50,235.00 92.85,240.68 94.20,245.80 95.55,251.34 96.90,256.50 99.60,263.30 103.00,266.20 106.30,266.90 108.50,267.50 115.00,267.70" fill="none" stroke="#383838" stroke-width="1.45" stroke-linejoin="round" />
<line x1="44.60" y1="162.00" x2="44.60" y2="268.30" stroke="#0a0a0a" stroke-width="1.7" />
<line x1="44.00" y1="267.70" x2="172.30" y2="267.70" stroke="#1a1a1a" stroke-width="1.5" />
<text transform="translate(29.10,214.60) rotate(-90)" font-size="10.0" font-family="'Liberation Sans', sans-serif" font-weight="bold" text-anchor="middle" fill="#111" stroke="#111" stroke-width="0.32">Counts</text>
<text x="108.70" y="289.80" font-size="10.2" font-family="'Liberation Sans', sans-serif" font-weight="bold" text-anchor="middle" fill="#111" stroke="#111" stroke-width="0.32" >PE (Jon/A)</text>
<text x="167.40" y="170.10" font-size="7.3" font-family="'Liberation Sans', sans-serif" font-weight="bold" text-anchor="end" fill="#111" stroke="#111" stroke-width="0.32" >Resting</text>
<line x1="51.00" y1="172.00" x2="62.00" y2="172.00" stroke="#000" stroke-width="1.5" />
<line x1="51.00" y1="177.80" x2="62.00" y2="177.80" stroke="#b4b4b4" stroke-width="1.5" />
<line x1="51.00" y1="183.40" x2="62.00" y2="183.40" stroke="#222" stroke-width="1.5" />
<text x="63.40" y="173.00" font-size="7.1" font-family="'Liberation Sans', sans-serif" font-weight="bold" text-anchor="start" fill="#111" stroke="#111" stroke-width="0.32" >Control</text>
<text x="63.40" y="180.40" font-size="7.1" font-family="'Liberation Sans', sans-serif" font-weight="bold" text-anchor="start" fill="#111" stroke="#111" stroke-width="0.32" >W T</text>
<text x="63.40" y="186.90" font-size="7.1" font-family="'Liberation Sans', sans-serif" font-weight="bold" text-anchor="start" fill="#111" stroke="#111" stroke-width="0.32" >KO</text>
<line x1="214.70" y1="162.30" x2="341.60" y2="162.30" stroke="#666" stroke-width="1.2" />
<line x1="341.60" y1="162.30" x2="341.60" y2="267.90" stroke="#666" stroke-width="1.2" />
<line x1="213.10" y1="267.90" x2="214.70" y2="267.90" stroke="#333" stroke-width="0.8" />
<line x1="213.10" y1="263.68" x2="214.70" y2="263.68" stroke="#333" stroke-width="0.8" />
<line x1="213.10" y1="259.45" x2="214.70" y2="259.45" stroke="#333" stroke-width="0.8" />
<line x1="213.10" y1="255.23" x2="214.70" y2="255.23" stroke="#333" stroke-width="0.8" />
<line x1="213.10" y1="251.00" x2="214.70" y2="251.00" stroke="#333" stroke-width="0.8" />
<line x1="213.10" y1="246.78" x2="214.70" y2="246.78" stroke="#333" stroke-width="0.8" />
<line x1="213.10" y1="242.56" x2="214.70" y2="242.56" stroke="#333" stroke-width="0.8" />
<line x1="213.10" y1="238.33" x2="214.70" y2="238.33" stroke="#333" stroke-width="0.8" />
<line x1="213.10" y1="234.11" x2="214.70" y2="234.11" stroke="#333" stroke-width="0.8" />
<line x1="213.10" y1="229.88" x2="214.70" y2="229.88" stroke="#333" stroke-width="0.8" />
<line x1="213.10" y1="225.66" x2="214.70" y2="225.66" stroke="#333" stroke-width="0.8" />
<line x1="213.10" y1="221.44" x2="214.70" y2="221.44" stroke="#333" stroke-width="0.8" />
<line x1="213.10" y1="217.21" x2="214.70" y2="217.21" stroke="#333" stroke-width="0.8" />
<line x1="213.10" y1="212.99" x2="214.70" y2="212.99" stroke="#333" stroke-width="0.8" />
<line x1="213.10" y1="208.76" x2="214.70" y2="208.76" stroke="#333" stroke-width="0.8" />
<line x1="213.10" y1="204.54" x2="214.70" y2="204.54" stroke="#333" stroke-width="0.8" />
<line x1="213.10" y1="200.32" x2="214.70" y2="200.32" stroke="#333" stroke-width="0.8" />
<line x1="213.10" y1="196.09" x2="214.70" y2="196.09" stroke="#333" stroke-width="0.8" />
<line x1="213.10" y1="191.87" x2="214.70" y2="191.87" stroke="#333" stroke-width="0.8" />
<line x1="213.10" y1="187.64" x2="214.70" y2="187.64" stroke="#333" stroke-width="0.8" />
<line x1="213.10" y1="183.42" x2="214.70" y2="183.42" stroke="#333" stroke-width="0.8" />
<line x1="213.10" y1="179.20" x2="214.70" y2="179.20" stroke="#333" stroke-width="0.8" />
<line x1="213.10" y1="174.97" x2="214.70" y2="174.97" stroke="#333" stroke-width="0.8" />
<line x1="213.10" y1="170.75" x2="214.70" y2="170.75" stroke="#333" stroke-width="0.8" />
<line x1="213.10" y1="166.52" x2="214.70" y2="166.52" stroke="#333" stroke-width="0.8" />
<line x1="213.10" y1="162.30" x2="214.70" y2="162.30" stroke="#333" stroke-width="0.8" />
<line x1="212.20" y1="267.90" x2="214.70" y2="267.90" stroke="#111" stroke-width="1.0" />
<text transform="translate(209.90,268.60) rotate(-90) scale(1,1.12)" font-size="7.5" font-family="'Liberation Sans', sans-serif" font-weight="bold" text-anchor="middle" fill="#111" stroke="#111" stroke-width="0.32">0</text>
<line x1="212.20" y1="246.78" x2="214.70" y2="246.78" stroke="#111" stroke-width="1.0" />
<text transform="translate(209.90,247.00) rotate(-90) scale(1,1.12)" font-size="7.5" font-family="'Liberation Sans', sans-serif" font-weight="bold" text-anchor="middle" fill="#111" stroke="#111" stroke-width="0.32">40</text>
<line x1="212.20" y1="225.66" x2="214.70" y2="225.66" stroke="#111" stroke-width="1.0" />
<text transform="translate(209.90,225.40) rotate(-90) scale(1,1.12)" font-size="7.5" font-family="'Liberation Sans', sans-serif" font-weight="bold" text-anchor="middle" fill="#111" stroke="#111" stroke-width="0.32">80</text>
<line x1="212.20" y1="204.54" x2="214.70" y2="204.54" stroke="#111" stroke-width="1.0" />
<text transform="translate(209.90,203.80) rotate(-90) scale(1,1.12)" font-size="7.5" font-family="'Liberation Sans', sans-serif" font-weight="bold" text-anchor="middle" fill="#111" stroke="#111" stroke-width="0.32">120</text>
<line x1="212.20" y1="183.42" x2="214.70" y2="183.42" stroke="#111" stroke-width="1.0" />
<text transform="translate(209.90,182.20) rotate(-90) scale(1,1.12)" font-size="7.5" font-family="'Liberation Sans', sans-serif" font-weight="bold" text-anchor="middle" fill="#111" stroke="#111" stroke-width="0.32">160</text>
<line x1="212.20" y1="162.30" x2="214.70" y2="162.30" stroke="#111" stroke-width="1.0" />
<text transform="translate(209.90,160.60) rotate(-90) scale(1,1.12)" font-size="7.5" font-family="'Liberation Sans', sans-serif" font-weight="bold" text-anchor="middle" fill="#111" stroke="#111" stroke-width="0.32">200</text>
<line x1="214.70" y1="267.90" x2="214.70" y2="269.90" stroke="#111" stroke-width="1.0" />
<line x1="224.25" y1="267.90" x2="224.25" y2="269.10" stroke="#333" stroke-width="0.7" />
<line x1="229.84" y1="267.90" x2="229.84" y2="269.10" stroke="#333" stroke-width="0.7" />
<line x1="233.80" y1="267.90" x2="233.80" y2="269.10" stroke="#333" stroke-width="0.7" />
<line x1="236.87" y1="267.90" x2="236.87" y2="269.10" stroke="#333" stroke-width="0.7" />
<line x1="239.39" y1="267.90" x2="239.39" y2="269.10" stroke="#333" stroke-width="0.7" />
<line x1="241.51" y1="267.90" x2="241.51" y2="269.10" stroke="#333" stroke-width="0.7" />
<line x1="243.35" y1="267.90" x2="243.35" y2="269.10" stroke="#333" stroke-width="0.7" />
<line x1="244.97" y1="267.90" x2="244.97" y2="269.10" stroke="#333" stroke-width="0.7" />
<text x="214.10" y="278.00" font-size="6.8" font-family="'Liberation Sans', sans-serif" font-weight="bold" text-anchor="middle" fill="#111" stroke="#111" stroke-width="0.32" >10</text>
<text x="217.90" y="275.10" font-size="4.6" font-family="'Liberation Sans', sans-serif" font-weight="bold" text-anchor="start" fill="#111" stroke="#111" stroke-width="0.32" >0</text>
<line x1="246.43" y1="267.90" x2="246.43" y2="269.90" stroke="#111" stroke-width="1.0" />
<line x1="255.98" y1="267.90" x2="255.98" y2="269.10" stroke="#333" stroke-width="0.7" />
<line x1="261.56" y1="267.90" x2="261.56" y2="269.10" stroke="#333" stroke-width="0.7" />
<line x1="265.53" y1="267.90" x2="265.53" y2="269.10" stroke="#333" stroke-width="0.7" />
<line x1="268.60" y1="267.90" x2="268.60" y2="269.10" stroke="#333" stroke-width="0.7" />
<line x1="271.11" y1="267.90" x2="271.11" y2="269.10" stroke="#333" stroke-width="0.7" />
<line x1="273.24" y1="267.90" x2="273.24" y2="269.10" stroke="#333" stroke-width="0.7" />
<line x1="275.08" y1="267.90" x2="275.08" y2="269.10" stroke="#333" stroke-width="0.7" />
<line x1="276.70" y1="267.90" x2="276.70" y2="269.10" stroke="#333" stroke-width="0.7" />
<text x="245.83" y="278.00" font-size="6.8" font-family="'Liberation Sans', sans-serif" font-weight="bold" text-anchor="middle" fill="#111" stroke="#111" stroke-width="0.32" >10</text>
<text x="249.62" y="275.10" font-size="4.6" font-family="'Liberation Sans', sans-serif" font-weight="bold" text-anchor="start" fill="#111" stroke="#111" stroke-width="0.32" >1</text>
<line x1="278.15" y1="267.90" x2="278.15" y2="269.90" stroke="#111" stroke-width="1.0" />
<line x1="287.70" y1="267.90" x2="287.70" y2="269.10" stroke="#333" stroke-width="0.7" />
<line x1="293.29" y1="267.90" x2="293.29" y2="269.10" stroke="#333" stroke-width="0.7" />
<line x1="297.25" y1="267.90" x2="297.25" y2="269.10" stroke="#333" stroke-width="0.7" />
<line x1="300.32" y1="267.90" x2="300.32" y2="269.10" stroke="#333" stroke-width="0.7" />
<line x1="302.84" y1="267.90" x2="302.84" y2="269.10" stroke="#333" stroke-width="0.7" />
<line x1="304.96" y1="267.90" x2="304.96" y2="269.10" stroke="#333" stroke-width="0.7" />
<line x1="306.80" y1="267.90" x2="306.80" y2="269.10" stroke="#333" stroke-width="0.7" />
<line x1="308.42" y1="267.90" x2="308.42" y2="269.10" stroke="#333" stroke-width="0.7" />
<text x="277.55" y="278.00" font-size="6.8" font-family="'Liberation Sans', sans-serif" font-weight="bold" text-anchor="middle" fill="#111" stroke="#111" stroke-width="0.32" >10</text>
<text x="281.35" y="275.10" font-size="4.6" font-family="'Liberation Sans', sans-serif" font-weight="bold" text-anchor="start" fill="#111" stroke="#111" stroke-width="0.32" >2</text>
<line x1="309.88" y1="267.90" x2="309.88" y2="269.90" stroke="#111" stroke-width="1.0" />
<line x1="319.43" y1="267.90" x2="319.43" y2="269.10" stroke="#333" stroke-width="0.7" />
<line x1="325.01" y1="267.90" x2="325.01" y2="269.10" stroke="#333" stroke-width="0.7" />
<line x1="328.98" y1="267.90" x2="328.98" y2="269.10" stroke="#333" stroke-width="0.7" />
<line x1="332.05" y1="267.90" x2="332.05" y2="269.10" stroke="#333" stroke-width="0.7" />
<line x1="334.56" y1="267.90" x2="334.56" y2="269.10" stroke="#333" stroke-width="0.7" />
<line x1="336.69" y1="267.90" x2="336.69" y2="269.10" stroke="#333" stroke-width="0.7" />
<line x1="338.53" y1="267.90" x2="338.53" y2="269.10" stroke="#333" stroke-width="0.7" />
<line x1="340.15" y1="267.90" x2="340.15" y2="269.10" stroke="#333" stroke-width="0.7" />
<text x="309.27" y="278.00" font-size="6.8" font-family="'Liberation Sans', sans-serif" font-weight="bold" text-anchor="middle" fill="#111" stroke="#111" stroke-width="0.32" >10</text>
<text x="313.07" y="275.10" font-size="4.6" font-family="'Liberation Sans', sans-serif" font-weight="bold" text-anchor="start" fill="#111" stroke="#111" stroke-width="0.32" >3</text>
<line x1="341.60" y1="267.90" x2="341.60" y2="269.90" stroke="#111" stroke-width="1.0" />
<text x="341.00" y="278.00" font-size="6.8" font-family="'Liberation Sans', sans-serif" font-weight="bold" text-anchor="middle" fill="#111" stroke="#111" stroke-width="0.32" >10</text>
<text x="344.80" y="275.10" font-size="4.6" font-family="'Liberation Sans', sans-serif" font-weight="bold" text-anchor="start" fill="#111" stroke="#111" stroke-width="0.32" >4</text>
<polyline points="214.90,236.00 216.05,236.83 217.20,236.60 218.35,236.33 219.50,234.90 220.40,234.57 221.30,234.30 223.00,232.60 224.20,234.30 225.70,230.30 227.00,232.60 227.90,230.42 228.80,229.10 230.50,230.30 231.65,227.95 232.80,227.40 234.00,229.10 234.60,232.60 235.10,229.70 237.50,235.50 240.40,242.40 243.30,250.50 245.60,258.60 247.90,264.40 250.80,267.30 262.00,267.80" fill="none" stroke="#111" stroke-width="1.4" stroke-linejoin="round" />
<polyline points="266.00,267.40 270.40,266.10 273.80,264.00 276.70,259.30 279.40,252.40 281.30,244.30 282.80,236.30 284.20,227.00 285.00,220.80 285.70,214.50 286.50,206.40 287.10,199.50 288.60,193.60 289.60,188.60 290.60,184.00 291.50,180.50 292.50,184.50 293.20,190.80 294.60,197.00 295.80,202.20 296.40,210.30 297.00,218.20 298.20,227.40 299.60,236.60 301.60,244.60 304.20,252.70 306.80,257.90 309.70,262.50 313.20,266.00 317.80,267.60" fill="none" stroke="#a8a8a8" stroke-width="1.5" stroke-linejoin="round" />
<polyline points="262.00,267.90 265.50,267.40 270.10,266.20 273.50,264.20 276.40,259.50 279.10,252.60 281.00,244.50 282.50,236.50 283.90,227.20 284.70,221.00 285.40,214.70 286.20,206.60 286.80,199.10 288.30,193.30 289.30,188.20 290.30,183.50 291.40,178.30 292.20,183.50 292.90,190.50 294.30,196.80 295.50,202.00 296.00,210.10 296.60,218.00 297.80,227.20 299.20,236.50 301.20,244.50 303.80,252.60 306.40,257.80 309.30,262.40 312.80,265.90 317.40,267.60 335.00,267.90" fill="none" stroke="#383838" stroke-width="1.45" stroke-linejoin="round" />
<line x1="214.70" y1="161.80" x2="214.70" y2="268.50" stroke="#0a0a0a" stroke-width="1.7" />
<line x1="214.10" y1="267.90" x2="342.10" y2="267.90" stroke="#1a1a1a" stroke-width="1.5" />
<text transform="translate(199.00,215.10) rotate(-90)" font-size="10.0" font-family="'Liberation Sans', sans-serif" font-weight="bold" text-anchor="middle" fill="#111" stroke="#111" stroke-width="0.32">Counts</text>
<text x="279.40" y="290.30" font-size="10.2" font-family="'Liberation Sans', sans-serif" font-weight="bold" text-anchor="middle" fill="#111" stroke="#111" stroke-width="0.32" >PE (Jon/A)</text>
<text x="336.70" y="170.30" font-size="7.55" font-family="'Liberation Sans', sans-serif" font-weight="bold" text-anchor="end" fill="#111" stroke="#111" stroke-width="0.32" >Thrombin</text>
<line x1="222.80" y1="171.90" x2="233.80" y2="171.90" stroke="#000" stroke-width="1.5" />
<line x1="222.80" y1="178.00" x2="233.80" y2="178.00" stroke="#b4b4b4" stroke-width="1.5" />
<line x1="222.80" y1="183.80" x2="233.80" y2="183.80" stroke="#222" stroke-width="1.5" />
<text x="235.40" y="173.00" font-size="7.1" font-family="'Liberation Sans', sans-serif" font-weight="bold" text-anchor="start" fill="#111" stroke="#111" stroke-width="0.32" >Control</text>
<text x="235.40" y="180.50" font-size="7.1" font-family="'Liberation Sans', sans-serif" font-weight="bold" text-anchor="start" fill="#111" stroke="#111" stroke-width="0.32" >W T</text>
<text x="235.40" y="187.30" font-size="7.1" font-family="'Liberation Sans', sans-serif" font-weight="bold" text-anchor="start" fill="#111" stroke="#111" stroke-width="0.32" >KO</text>
<line x1="384.50" y1="25.50" x2="384.50" y2="120.00" stroke="#111" stroke-width="1.3" />
<line x1="383.90" y1="119.30" x2="513.50" y2="119.30" stroke="#111" stroke-width="1.3" />
<line x1="381.90" y1="119.30" x2="384.50" y2="119.30" stroke="#111" stroke-width="1.1" />
<text x="381.60" y="122.10" font-size="7.8" font-family="'Liberation Sans', sans-serif" font-weight="bold" text-anchor="end" fill="#1a1a1a" stroke="#1a1a1a" stroke-width="0.32" >0</text>
<line x1="381.90" y1="105.93" x2="384.50" y2="105.93" stroke="#111" stroke-width="1.1" />
<text x="381.60" y="108.73" font-size="7.8" font-family="'Liberation Sans', sans-serif" font-weight="bold" text-anchor="end" fill="#1a1a1a" stroke="#1a1a1a" stroke-width="0.32" >50</text>
<line x1="381.90" y1="92.56" x2="384.50" y2="92.56" stroke="#111" stroke-width="1.1" />
<text x="381.60" y="95.36" font-size="7.8" font-family="'Liberation Sans', sans-serif" font-weight="bold" text-anchor="end" fill="#1a1a1a" stroke="#1a1a1a" stroke-width="0.32" >100</text>
<line x1="381.90" y1="79.19" x2="384.50" y2="79.19" stroke="#111" stroke-width="1.1" />
<text x="381.60" y="81.99" font-size="7.8" font-family="'Liberation Sans', sans-serif" font-weight="bold" text-anchor="end" fill="#1a1a1a" stroke="#1a1a1a" stroke-width="0.32" >150</text>
<line x1="381.90" y1="65.81" x2="384.50" y2="65.81" stroke="#111" stroke-width="1.1" />
<text x="381.60" y="68.61" font-size="7.8" font-family="'Liberation Sans', sans-serif" font-weight="bold" text-anchor="end" fill="#1a1a1a" stroke="#1a1a1a" stroke-width="0.32" >200</text>
<line x1="381.90" y1="52.44" x2="384.50" y2="52.44" stroke="#111" stroke-width="1.1" />
<text x="381.60" y="55.24" font-size="7.8" font-family="'Liberation Sans', sans-serif" font-weight="bold" text-anchor="end" fill="#1a1a1a" stroke="#1a1a1a" stroke-width="0.32" >250</text>
<line x1="381.90" y1="39.07" x2="384.50" y2="39.07" stroke="#111" stroke-width="1.1" />
<text x="381.60" y="41.87" font-size="7.8" font-family="'Liberation Sans', sans-serif" font-weight="bold" text-anchor="end" fill="#1a1a1a" stroke="#1a1a1a" stroke-width="0.32" >300</text>
<line x1="381.90" y1="25.70" x2="384.50" y2="25.70" stroke="#111" stroke-width="1.1" />
<text x="381.60" y="28.50" font-size="7.8" font-family="'Liberation Sans', sans-serif" font-weight="bold" text-anchor="end" fill="#1a1a1a" stroke="#1a1a1a" stroke-width="0.32" >350</text>
<line x1="419.30" y1="119.30" x2="419.30" y2="121.70" stroke="#111" stroke-width="1.1" />
<line x1="477.50" y1="119.30" x2="477.50" y2="121.70" stroke="#111" stroke-width="1.1" />
<line x1="405.00" y1="46.60" x2="405.00" y2="51.90" stroke="#111" stroke-width="1.2" />
<line x1="403.20" y1="46.60" x2="406.80" y2="46.60" stroke="#111" stroke-width="1.2" />
<rect x="396.20" y="51.90" width="17.60" height="67.40" fill="#000" stroke="none" stroke-width="1.0"/>
<line x1="434.30" y1="43.30" x2="434.30" y2="52.30" stroke="#111" stroke-width="1.2" />
<line x1="432.50" y1="43.30" x2="436.10" y2="43.30" stroke="#111" stroke-width="1.2" />
<rect x="425.90" y="52.90" width="16.80" height="66.40" fill="#fff" stroke="#1a1a1a" stroke-width="1.2"/>
<line x1="463.75" y1="30.10" x2="463.75" y2="33.30" stroke="#111" stroke-width="1.2" />
<line x1="461.95" y1="30.10" x2="465.55" y2="30.10" stroke="#111" stroke-width="1.2" />
<rect x="455.20" y="33.30" width="17.10" height="86.00" fill="#000" stroke="none" stroke-width="1.0"/>
<line x1="492.70" y1="31.30" x2="492.70" y2="39.40" stroke="#111" stroke-width="1.2" />
<line x1="490.90" y1="31.30" x2="494.50" y2="31.30" stroke="#111" stroke-width="1.2" />
<rect x="484.20" y="40.00" width="17.00" height="79.30" fill="#fff" stroke="#1a1a1a" stroke-width="1.2"/>
<rect x="395.60" y="24.20" width="8.30" height="3.90" fill="#000" stroke="none" stroke-width="1.0"/>
<rect x="396.20" y="32.90" width="7.10" height="3.40" fill="#fff" stroke="#666" stroke-width="1.2"/>
<text x="406.20" y="28.70" font-size="7.3" font-family="'Liberation Sans', sans-serif" font-weight="bold" text-anchor="start" fill="#111" stroke="#111" stroke-width="0.32" >WT</text>
<text x="406.20" y="37.70" font-size="7.3" font-family="'Liberation Sans', sans-serif" font-weight="bold" text-anchor="start" fill="#111" stroke="#111" stroke-width="0.32" >KO</text>
<text transform="translate(366.40,62.30) rotate(-90)" font-size="14.3" font-family="'Liberation Sans', sans-serif" font-weight="bold" text-anchor="middle" fill="#111" >GMFI</text>
<text x="419.40" y="131.50" font-size="9.8" font-family="'Liberation Sans', sans-serif" font-weight="bold" text-anchor="middle" fill="#111" stroke="#111" stroke-width="0.32" >Resting</text>
<text x="477.70" y="131.60" font-size="9.8" font-family="'Liberation Sans', sans-serif" font-weight="bold" text-anchor="middle" fill="#111" stroke="#111" stroke-width="0.32" >Thrombin</text>
<text x="387.70" y="10.70" font-size="11.3" font-family="'Liberation Sans', sans-serif" text-anchor="start" fill="#1a1a1a" stroke="#1a1a1a" stroke-width="0.3" >Total</text>
<text x="415.20" y="10.70" font-size="11.0" font-family="'Liberation Sans', sans-serif" text-anchor="start" fill="#1a1a1a" stroke="#1a1a1a" stroke-width="0.3" >α</text>
<text x="421.70" y="11.40" font-size="5.5" font-family="'Liberation Sans', sans-serif" text-anchor="start" fill="#333" stroke="#333" stroke-width="0.35" letter-spacing="0.8">IIb</text>
<text x="429.00" y="10.70" font-size="10.8" font-family="'Liberation Sans', sans-serif" text-anchor="start" fill="#1a1a1a" stroke="#1a1a1a" stroke-width="0.3" >β</text>
<text x="435.20" y="11.50" font-size="6.4" font-family="'Liberation Sans', sans-serif" text-anchor="start" fill="#333" stroke="#333" stroke-width="0.35" >3</text>
<text x="442.40" y="10.70" font-size="11.3" font-family="'Liberation Sans', sans-serif" text-anchor="start" fill="#1a1a1a" stroke="#1a1a1a" stroke-width="0.3" >Surface Level</text>
<line x1="385.00" y1="164.60" x2="385.00" y2="267.70" stroke="#111" stroke-width="1.3" />
<line x1="384.40" y1="267.00" x2="514.80" y2="267.00" stroke="#111" stroke-width="1.3" />
<line x1="382.40" y1="267.00" x2="385.00" y2="267.00" stroke="#111" stroke-width="1.1" />
<text x="382.10" y="269.80" font-size="7.8" font-family="'Liberation Sans', sans-serif" font-weight="bold" text-anchor="end" fill="#1a1a1a" stroke="#1a1a1a" stroke-width="0.32" >0</text>
<line x1="382.40" y1="249.97" x2="385.00" y2="249.97" stroke="#111" stroke-width="1.1" />
<text x="382.10" y="252.77" font-size="7.8" font-family="'Liberation Sans', sans-serif" font-weight="bold" text-anchor="end" fill="#1a1a1a" stroke="#1a1a1a" stroke-width="0.32" >50</text>
<line x1="382.40" y1="232.93" x2="385.00" y2="232.93" stroke="#111" stroke-width="1.1" />
<text x="382.10" y="235.73" font-size="7.8" font-family="'Liberation Sans', sans-serif" font-weight="bold" text-anchor="end" fill="#1a1a1a" stroke="#1a1a1a" stroke-width="0.32" >100</text>
<line x1="382.40" y1="215.90" x2="385.00" y2="215.90" stroke="#111" stroke-width="1.1" />
<text x="382.10" y="218.70" font-size="7.8" font-family="'Liberation Sans', sans-serif" font-weight="bold" text-anchor="end" fill="#1a1a1a" stroke="#1a1a1a" stroke-width="0.32" >150</text>
<line x1="382.40" y1="198.87" x2="385.00" y2="198.87" stroke="#111" stroke-width="1.1" />
<text x="382.10" y="201.67" font-size="7.8" font-family="'Liberation Sans', sans-serif" font-weight="bold" text-anchor="end" fill="#1a1a1a" stroke="#1a1a1a" stroke-width="0.32" >200</text>
<line x1="382.40" y1="181.83" x2="385.00" y2="181.83" stroke="#111" stroke-width="1.1" />
<text x="382.10" y="184.63" font-size="7.8" font-family="'Liberation Sans', sans-serif" font-weight="bold" text-anchor="end" fill="#1a1a1a" stroke="#1a1a1a" stroke-width="0.32" >250</text>
<line x1="382.40" y1="164.80" x2="385.00" y2="164.80" stroke="#111" stroke-width="1.1" />
<text x="382.10" y="167.60" font-size="7.8" font-family="'Liberation Sans', sans-serif" font-weight="bold" text-anchor="end" fill="#1a1a1a" stroke="#1a1a1a" stroke-width="0.32" >300</text>
<line x1="421.70" y1="267.00" x2="421.70" y2="269.40" stroke="#111" stroke-width="1.1" />
<line x1="479.30" y1="267.00" x2="479.30" y2="269.40" stroke="#111" stroke-width="1.1" />
<rect x="396.70" y="264.20" width="17.60" height="2.80" fill="#000" stroke="none" stroke-width="1.0"/>
<line x1="435.10" y1="263.60" x2="435.10" y2="264.10" stroke="#111" stroke-width="1.2" />
<line x1="433.30" y1="263.60" x2="436.90" y2="263.60" stroke="#111" stroke-width="1.2" />
<rect x="426.70" y="264.70" width="16.80" height="2.30" fill="#fff" stroke="#1a1a1a" stroke-width="1.2"/>
<line x1="464.60" y1="189.20" x2="464.60" y2="191.40" stroke="#111" stroke-width="1.2" />
<line x1="462.80" y1="189.20" x2="466.40" y2="189.20" stroke="#111" stroke-width="1.2" />
<rect x="455.70" y="191.40" width="17.80" height="75.60" fill="#000" stroke="none" stroke-width="1.0"/>
<line x1="493.90" y1="184.70" x2="493.90" y2="186.90" stroke="#111" stroke-width="1.2" />
<line x1="492.10" y1="184.70" x2="495.70" y2="184.70" stroke="#111" stroke-width="1.2" />
<rect x="485.20" y="187.50" width="17.40" height="79.50" fill="#fff" stroke="#1a1a1a" stroke-width="1.2"/>
<rect x="398.30" y="168.60" width="8.30" height="3.90" fill="#000" stroke="none" stroke-width="1.0"/>
<rect x="398.90" y="177.30" width="7.10" height="3.40" fill="#fff" stroke="#666" stroke-width="1.2"/>
<text x="408.90" y="173.10" font-size="7.3" font-family="'Liberation Sans', sans-serif" font-weight="bold" text-anchor="start" fill="#111" stroke="#111" stroke-width="0.32" >WT</text>
<text x="408.90" y="182.10" font-size="7.3" font-family="'Liberation Sans', sans-serif" font-weight="bold" text-anchor="start" fill="#111" stroke="#111" stroke-width="0.32" >KO</text>
<text transform="translate(366.40,210.60) rotate(-90)" font-size="14.3" font-family="'Liberation Sans', sans-serif" font-weight="bold" text-anchor="middle" fill="#111" >GMFI</text>
<text x="421.60" y="280.10" font-size="9.8" font-family="'Liberation Sans', sans-serif" font-weight="bold" text-anchor="middle" fill="#111" stroke="#111" stroke-width="0.32" >Resting</text>
<text x="479.60" y="280.30" font-size="9.8" font-family="'Liberation Sans', sans-serif" font-weight="bold" text-anchor="middle" fill="#111" stroke="#111" stroke-width="0.32" >Thrombin</text>
<text x="373.40" y="155.30" font-size="11.1" font-family="'Liberation Sans', sans-serif" text-anchor="start" fill="#1a1a1a" stroke="#1a1a1a" stroke-width="0.3" >Activated</text>
<text x="422.70" y="155.30" font-size="11.0" font-family="'Liberation Sans', sans-serif" text-anchor="start" fill="#1a1a1a" stroke="#1a1a1a" stroke-width="0.3" >α</text>
<text x="429.60" y="156.20" font-size="5.5" font-family="'Liberation Sans', sans-serif" text-anchor="start" fill="#333" stroke="#333" stroke-width="0.35" letter-spacing="0.8">IIb</text>
<text x="437.20" y="155.30" font-size="10.8" font-family="'Liberation Sans', sans-serif" text-anchor="start" fill="#1a1a1a" stroke="#1a1a1a" stroke-width="0.3" >β</text>
<text x="442.80" y="156.30" font-size="6.4" font-family="'Liberation Sans', sans-serif" text-anchor="start" fill="#333" stroke="#333" stroke-width="0.35" >3</text>
<text x="450.80" y="155.30" font-size="11.3" font-family="'Liberation Sans', sans-serif" text-anchor="start" fill="#1a1a1a" stroke="#1a1a1a" stroke-width="0.3" >Surface Level</text>
<line x1="58.85" y1="323.10" x2="58.85" y2="487.50" stroke="#111" stroke-width="1.3" />
<line x1="58.25" y1="486.80" x2="292.70" y2="486.80" stroke="#111" stroke-width="1.3" />
<line x1="55.85" y1="486.80" x2="58.85" y2="486.80" stroke="#111" stroke-width="1.2" />
<text x="50.50" y="490.80" font-size="10.8" font-family="'Liberation Sans', sans-serif" font-weight="bold" text-anchor="end" fill="#111" stroke="#111" stroke-width="0.15" >0</text>
<line x1="55.85" y1="454.12" x2="58.85" y2="454.12" stroke="#111" stroke-width="1.2" />
<text x="50.50" y="458.12" font-size="10.8" font-family="'Liberation Sans', sans-serif" font-weight="bold" text-anchor="end" fill="#111" stroke="#111" stroke-width="0.15" >2</text>
<line x1="55.85" y1="421.44" x2="58.85" y2="421.44" stroke="#111" stroke-width="1.2" />
<text x="50.50" y="425.44" font-size="10.8" font-family="'Liberation Sans', sans-serif" font-weight="bold" text-anchor="end" fill="#111" stroke="#111" stroke-width="0.15" >4</text>
<line x1="55.85" y1="388.76" x2="58.85" y2="388.76" stroke="#111" stroke-width="1.2" />
<text x="50.50" y="392.76" font-size="10.8" font-family="'Liberation Sans', sans-serif" font-weight="bold" text-anchor="end" fill="#111" stroke="#111" stroke-width="0.15" >6</text>
<line x1="55.85" y1="356.08" x2="58.85" y2="356.08" stroke="#111" stroke-width="1.2" />
<text x="50.50" y="360.08" font-size="10.8" font-family="'Liberation Sans', sans-serif" font-weight="bold" text-anchor="end" fill="#111" stroke="#111" stroke-width="0.15" >8</text>
<line x1="55.85" y1="323.40" x2="58.85" y2="323.40" stroke="#111" stroke-width="1.2" />
<text x="50.50" y="327.40" font-size="10.8" font-family="'Liberation Sans', sans-serif" font-weight="bold" text-anchor="end" fill="#111" stroke="#111" stroke-width="0.15" >10</text>
<line x1="58.85" y1="486.80" x2="58.85" y2="489.60" stroke="#111" stroke-width="1.2" />
<line x1="136.50" y1="486.80" x2="136.50" y2="489.60" stroke="#111" stroke-width="1.2" />
<line x1="214.40" y1="486.80" x2="214.40" y2="489.60" stroke="#111" stroke-width="1.2" />
<line x1="292.40" y1="486.80" x2="292.40" y2="489.60" stroke="#111" stroke-width="1.2" />
<line x1="124.75" y1="390.60" x2="124.75" y2="398.80" stroke="#111" stroke-width="1.3" />
<line x1="122.05" y1="390.60" x2="127.45" y2="390.60" stroke="#111" stroke-width="1.3" />
<rect x="117.20" y="398.80" width="15.10" height="88.00" fill="#000" stroke="none" stroke-width="1.0"/>
<line x1="148.20" y1="402.50" x2="148.20" y2="405.00" stroke="#111" stroke-width="1.3" />
<line x1="145.50" y1="402.50" x2="150.90" y2="402.50" stroke="#111" stroke-width="1.3" />
<rect x="141.35" y="405.65" width="13.70" height="81.15" fill="#fff" stroke="#222" stroke-width="1.3"/>
<line x1="202.70" y1="359.20" x2="202.70" y2="369.00" stroke="#111" stroke-width="1.3" />
<line x1="200.00" y1="359.20" x2="205.40" y2="359.20" stroke="#111" stroke-width="1.3" />
<rect x="195.20" y="369.00" width="15.00" height="117.80" fill="#000" stroke="none" stroke-width="1.0"/>
<line x1="226.05" y1="371.30" x2="226.05" y2="376.50" stroke="#111" stroke-width="1.3" />
<line x1="223.35" y1="371.30" x2="228.75" y2="371.30" stroke="#111" stroke-width="1.3" />
<rect x="218.95" y="377.15" width="14.20" height="109.65" fill="#fff" stroke="#222" stroke-width="1.3"/>
<rect x="84.00" y="332.20" width="21.10" height="5.50" fill="#000" stroke="none" stroke-width="1.0"/>
<rect x="84.60" y="344.60" width="19.90" height="4.00" fill="#fff" stroke="#222" stroke-width="1.2"/>
<text x="109.90" y="338.30" font-size="8.9" font-family="'Liberation Sans', sans-serif" font-weight="bold" text-anchor="start" fill="#111" stroke="#111" stroke-width="0.32" >WT</text>
<text x="109.90" y="349.50" font-size="8.9" font-family="'Liberation Sans', sans-serif" font-weight="bold" text-anchor="start" fill="#111" stroke="#111" stroke-width="0.32" >KO</text>
<text x="136.60" y="500.70" font-size="11.0" font-family="'Liberation Sans', sans-serif" font-weight="bold" text-anchor="middle" fill="#111" stroke="#111" stroke-width="0.32" >0.06</text>
<text x="217.00" y="500.70" font-size="11.0" font-family="'Liberation Sans', sans-serif" font-weight="bold" text-anchor="middle" fill="#111" stroke="#111" stroke-width="0.32" >0.12</text>
<text x="175.60" y="515.70" font-size="11.7" font-family="'Liberation Sans', sans-serif" text-anchor="middle" fill="#111" stroke="#111" stroke-width="0.6" >Fg (mg/mL)</text>
<text transform="translate(33.00,406.20) rotate(-90)" font-size="14.5" font-family="'Liberation Sans', sans-serif" font-weight="bold" text-anchor="middle" fill="#111" >FITC-Fg Bound (GMFI)</text>
</svg></body></html>
